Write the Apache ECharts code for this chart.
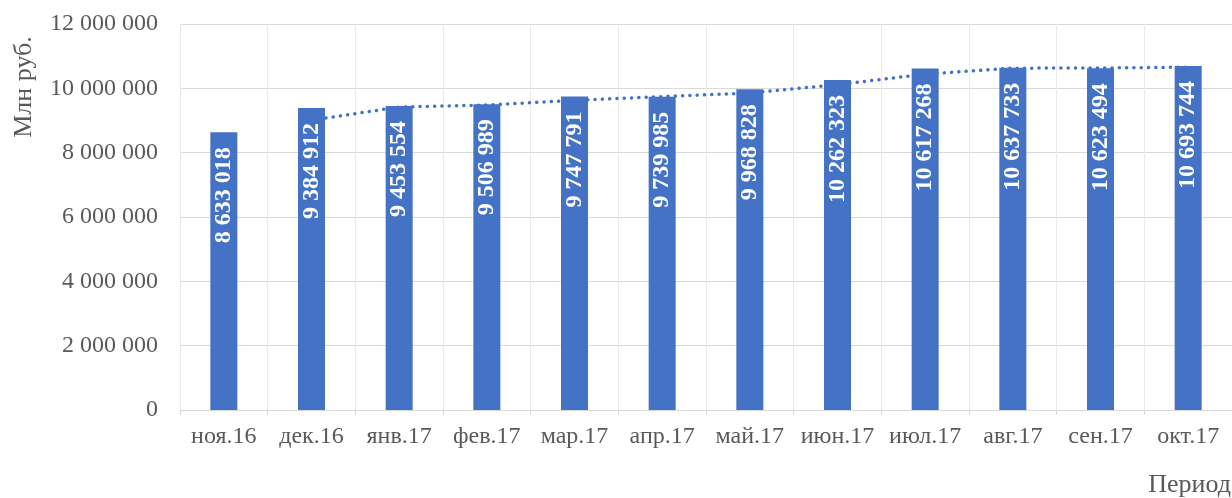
<!DOCTYPE html>
<html>
<head>
<meta charset="utf-8">
<script src="https://cdn.jsdelivr.net/npm/echarts@6/dist/echarts.min.js"></script>
<style>
  html, body { margin: 0; padding: 0; background: #fff; }
  #chart { width: 1232px; height: 498px; }
</style>
</head>
<body>
<div id="chart"></div>
<script>
// Monthly volume, mln rubles
const periods = ['ноя.16', 'дек.16', 'янв.17', 'фев.17', 'мар.17', 'апр.17',
                 'май.17', 'июн.17', 'июл.17', 'авг.17', 'сен.17', 'окт.17'];
const volumes = [8633018, 9384912, 9453554, 9506989, 9747791, 9739985,
                 9968828, 10262323, 10617268, 10637733, 10623494, 10693744];
// Two-period moving average trend
const trend = [null, 9008965, 9419233, 9480272, 9627390, 9743888,
               9854407, 10115576, 10439796, 10627501, 10630614, 10658619];
const yTicks = [0, 2000000, 4000000, 6000000, 8000000, 10000000, 12000000];

const FONT = "'Liberation Serif', 'Times New Roman', serif";
const BLUE = '#4472C4';
const TEXT = '#595959';

function spaced(v) {
  return String(Math.round(v)).replace(/\B(?=(\d{3})+(?!\d))/g, ' ');
}

const chart = echarts.init(document.getElementById('chart'), null, { renderer: 'canvas' });
chart.setOption({
  animation: false,
  backgroundColor: '#fff',
  grid: { left: 180, right: 0, top: 24, bottom: 88, containLabel: false },
  xAxis: {
    type: 'category',
    data: periods,
    boundaryGap: true,
    axisLine: { show: true, lineStyle: { color: '#D9D9D9', width: 1 } },
    axisTick: { show: true, length: 5, lineStyle: { color: '#D9D9D9' } },
    splitLine: { show: true, lineStyle: { color: '#EBEBEB', width: 1 } },
    axisLabel: { color: TEXT, fontFamily: FONT, fontSize: 24, margin: 15, interval: 0 }
  },
  yAxis: {
    type: 'value',
    min: yTicks[0],
    max: yTicks[yTicks.length - 1],
    interval: yTicks[1] - yTicks[0],
    axisLine: { show: false },
    axisTick: { show: false },
    splitLine: { show: true, lineStyle: { color: '#D9D9D9', width: 1 } },
    axisLabel: { color: TEXT, fontFamily: FONT, fontSize: 24, margin: 22, formatter: spaced }
  },
  graphic: [
    {
      type: 'text',
      x: 24, y: 87,
      rotation: Math.PI / 2,
      style: { text: 'Млн руб.', font: '26px ' + FONT, fill: TEXT, align: 'center', verticalAlign: 'middle' }
    },
    {
      type: 'text',
      x: 1231, y: 485,
      style: { text: 'Период', font: '26px ' + FONT, fill: TEXT, align: 'right', verticalAlign: 'middle' }
    }
  ],
  series: [
    {
      type: 'line',
      data: trend,
      z: 1,
      symbol: 'none',
      smooth: false,
      connectNulls: false,
      lineStyle: { color: BLUE, width: 3.5, type: [0.1, 7.2], cap: 'round' }
    },
    {
      type: 'bar',
      data: volumes,
      z: 3,
      barWidth: 27,
      itemStyle: { color: BLUE },
      label: {
        show: true,
        position: 'insideTop',
        distance: 15,
        rotate: 90,
        align: 'right',
        verticalAlign: 'middle',
        color: '#fff',
        fontFamily: FONT,
        fontWeight: 'bold',
        fontSize: 24,
        formatter: p => spaced(p.value)
      }
    }
  ]
});
</script>
</body>
</html>
